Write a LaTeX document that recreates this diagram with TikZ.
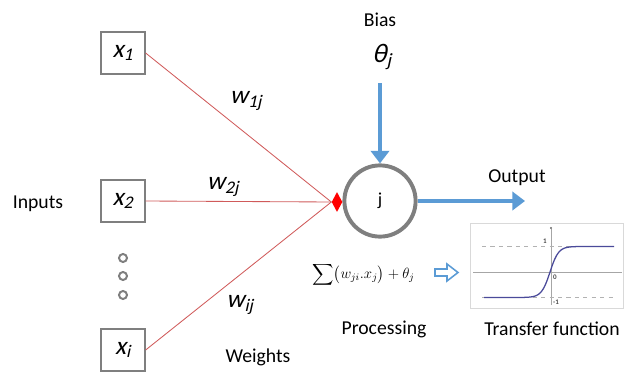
\documentclass[tikz,border=0pt]{standalone}
\usepackage{amsmath}
\usepackage{graphicx}
\usepackage{fontspec}
\setmainfont{Carlito}[AutoFakeSlant=0.22]
\usepackage{tikz}
\usetikzlibrary{arrows.meta, shapes.geometric}
\definecolor{kblue}{HTML}{5B9BD5}
\definecolor{kred}{HTML}{D05A5A}
\definecolor{kgray}{HTML}{7F7F7F}
\definecolor{kcurve}{HTML}{4A4A9A}
\newcommand{\lblsize}{\fontsize{14}{16}\selectfont}
\newcommand{\varsize}{\fontsize{18}{20}\selectfont}

\begin{document}
\begin{tikzpicture}[x=0.025cm, y=-0.025cm,
  inbox/.style={draw=kgray, line width=0.9pt, minimum width=1.1cm, minimum height=1.05cm, inner sep=0pt, font=\varsize},
  dotc/.style={circle, draw=kgray, line width=1.4pt, minimum size=0.2cm, inner sep=0pt},
  wline/.style={kred, line width=0.6pt},
  barrow/.style={kblue, line width=2.8pt, -{Triangle[width=13pt, length=9pt]}},
  lbl/.style={font=\lblsize},
  tick/.style={font=\fontsize{5}{6}\selectfont\bfseries, gray!60!black}]
\useasboundingbox (0,0) rectangle (624,375);
% inputs
\node[inbox] (x1) at (123,53) {\textit{x}\textsubscript{\textit{1}}};
\node[inbox] (x2) at (123,201) {\textit{x}\textsubscript{\textit{2}}};
\node[inbox] (xi) at (123,350) {\textit{x}\textsubscript{\textit{i}}};
\node[dotc] (d1) at (123,258) {};
\node[dotc] (d2) at (123,276) {};
\node[dotc] (d3) at (123,295) {};
\node[lbl] (inputs) at (38,204) {Inputs};
% neuron
\node[circle, draw=kgray, line width=2.8pt, minimum size=1.78cm, inner sep=0pt, font=\fontsize{13}{15}\selectfont] (j) at (380,201) {j};
\node[diamond, fill=red, minimum width=0.27cm, minimum height=0.5cm, inner sep=0pt, aspect=0.5] (jin) at (337,202) {};
\draw[wline] (x1.east) -- (jin.west);
\draw[wline] (x2.east) -- (jin.west);
\draw[wline] (xi.east) -- (jin.west);
\node[font=\varsize] (w1) at (246,101) {\textit{w}\textsubscript{\textit{1j}}};
\node[font=\varsize] (w2) at (223,187) {\textit{w}\textsubscript{\textit{2j}}};
\node[font=\varsize] (wi) at (240,305) {\textit{w}\textsubscript{\textit{ij}}};
\node[lbl] (weights) at (258,357) {Weights};
% bias and output
\node[lbl] (bias) at (380,20) {Bias};
\node[font=\fontsize{19}{21}\selectfont] (theta) at (382,57) {\textit{θ}\textsubscript{\textit{j}}};
\coordinate (biastop) at (380,83);
\draw[barrow] (biastop) -- (j.north);
\coordinate (outend) at (525,201);
\draw[barrow] (j.east) -- (outend);
\node[lbl] (output) at (517,178) {Output};
% processing
\node[inner sep=0pt, anchor=west, font=\fontsize{12}{14}\selectfont] (sum) at (312,275)
  {\scalebox{0.88}{$\displaystyle\sum\bigl(w_{ji}.x_j\bigr)+\theta_j$}};
\node[lbl] (proc) at (384,329) {Processing};
\draw[kblue, line width=1.1pt, line join=miter]
  (435,269) -- (447,269) -- (447,264) -- (458,272.5) -- (447,281) -- (447,276) -- (435,276) -- cycle;
% transfer function
\draw[gray!30, line width=0.6pt] (470,223) rectangle (623,308);
\draw[gray!70, line width=0.6pt] (473,272) -- (622,272);
\draw[gray!70, line width=0.6pt] (551,305) -- (551,229);
\fill[gray!80!black] (551,228) circle (0.8pt);
\draw[gray!60, dashed, line width=0.5pt] (482,246) -- (614,246);
\draw[gray!60, dashed, line width=0.5pt] (482,297) -- (614,297);
\draw[kcurve, line width=0.9pt, domain=484:614, samples=80, smooth]
  plot (\x, {272-25.5*tanh((\x-550)/8.5)});
\node[tick] (one) at (545,241) {1};
\node[tick] (zero) at (555,277) {0};
\node[tick] (mone) at (556,302) {-1};
\node[lbl] (tf) at (552,329) {Transfer function};
\end{tikzpicture}
\end{document}
